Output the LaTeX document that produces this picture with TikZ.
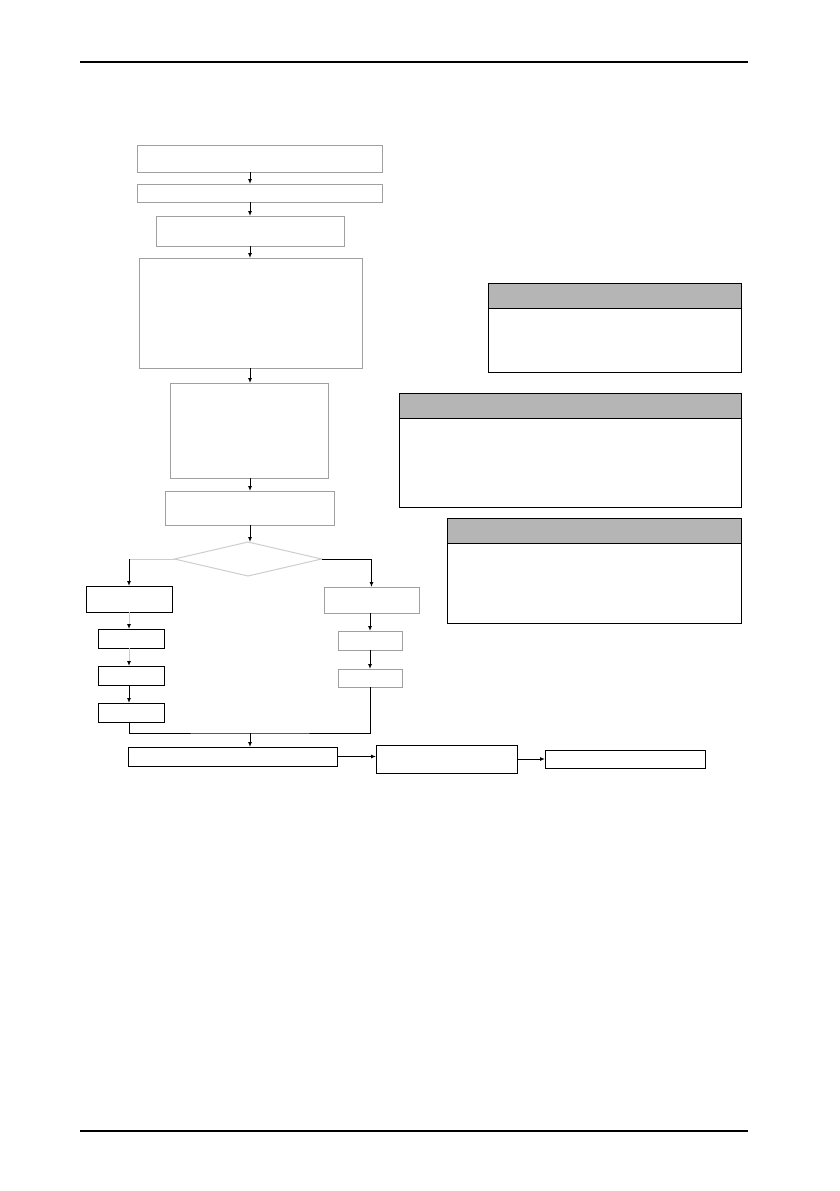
\documentclass[tikz,border=0pt]{standalone}
\usetikzlibrary{shapes,arrows.meta,positioning}
\definecolor{boxgray}{RGB}{160,160,160}
\definecolor{linkgray}{RGB}{205,205,205}
\definecolor{headgray}{RGB}{181,181,181}
\tikzstyle{gbox}=[rectangle,draw=boxgray,line width=1pt,inner sep=0pt,outer sep=0pt]
\tikzstyle{kbox}=[rectangle,draw=black,line width=1pt,inner sep=0pt,outer sep=0pt]
\tikzstyle{head}=[kbox,fill=headgray,anchor=north,minimum height=25]
\tikzstyle{dec}=[diamond,draw=linkgray,line width=1pt,inner sep=0pt,outer sep=0pt,minimum width=147,minimum height=34]
\tikzstyle{arr}=[-{Latex[length=5pt,width=4pt,color=black]},line width=1pt]
\tikzstyle{link}=[draw=linkgray,line width=1pt]
\tikzstyle{rule}=[line width=2pt]

\begin{document}
\begin{tikzpicture}[x=1pt,y=-1pt]
\useasboundingbox (0,0) rectangle (839,1191);
% page rules
\coordinate (tl) at (80,62);
\coordinate (tr) at (748,62);
\coordinate (bl) at (80,1131);
\coordinate (br) at (748,1131);
\draw[rule] (tl) -- (tr);
\draw[rule] (bl) -- (br);
% main column
\coordinate (mid) at (250,0);
\node[gbox,minimum width=245,minimum height=27] (b1) at (259.5,158.5) {};
\node[gbox,minimum width=245,minimum height=18] (b2) at (259.5,193) {};
\node[gbox,minimum width=188,minimum height=30] (b3) at (250,231) {};
\node[gbox,minimum width=223,minimum height=110] (b4) at (250.5,313) {};
\node[gbox,minimum width=158,minimum height=95] (b5) at (249,430.5) {};
\node[gbox,minimum width=169,minimum height=34] (b6) at (249.5,508) {};
\node[dec] (dm) at (248,559) {};
% branches
\node[kbox,minimum width=86,minimum height=26] (l1) at (129,599) {};
\node[kbox,minimum width=66,minimum height=19] (l2) at (131,638.5) {};
\node[kbox,minimum width=66,minimum height=19] (l3) at (131,675.5) {};
\node[kbox,minimum width=66,minimum height=19] (l4) at (131,712.5) {};
\node[gbox,minimum width=95,minimum height=26] (r1) at (371.5,600) {};
\node[gbox,minimum width=64,minimum height=19] (r2) at (370,640.5) {};
\node[gbox,minimum width=64,minimum height=18] (r3) at (370,678) {};
% bottom row
\node[kbox,minimum width=209,minimum height=19] (f1) at (232.5,756.5) {};
\node[kbox,minimum width=141,minimum height=28] (f2) at (446.5,759) {};
\node[kbox,minimum width=160,minimum height=18] (f3) at (625,759) {};
% side panels
\node[kbox,minimum width=253,minimum height=89] (pa) at (614.5,327.5) {};
\node[head,minimum width=253] (pah) at (pa.north) {};
\node[kbox,minimum width=342,minimum height=114] (pb) at (570,450) {};
\node[head,minimum width=342] (pbh) at (pb.north) {};
\node[kbox,minimum width=294,minimum height=105] (pc) at (594,570.5) {};
\node[head,minimum width=294] (pch) at (pc.north) {};
% connectors
\draw[arr] (b1.south-|mid) -- (b2.north-|mid);
\draw[arr] (b2.south-|mid) -- (b3.north-|mid);
\draw[arr] (b3.south-|mid) -- (b4.north-|mid);
\draw[arr] (b4.south-|mid) -- (b5.north-|mid);
\draw[arr] (b5.south-|mid) -- (b6.north-|mid);
\draw[arr] (b6.south-|mid) -- (dm.north-|mid);
\draw[link] (dm.west) -- (dm.west-|l1.north);
\draw[arr] (dm.west-|l1.north) -- (l1.north);
\draw[arr] (dm.east) -| (r1.north);
\draw[arr,draw=linkgray] (l1.south) -- (l1.south|-l2.north);
\draw[arr,draw=linkgray] (l1.south|-l2.south) -- (l1.south|-l3.north);
\draw[arr] (l1.south|-l3.south) -- (l1.south|-l4.north);
\draw[arr] (r1.south-|r2.north) -- (r2.north);
\draw[arr] (r2.south) -- (r3.north);
\coordinate (mg) at (250,733);
\draw[line width=1pt] (l1.south|-l4.south) |- (mg) -| (r3.south);
\draw[arr] (mg) -- (mg|-f1.north);
\draw[arr] (f1.east) -- (f1.east-|f2.west);
\draw[arr] (f2.east) -- (f2.east-|f3.west);
\end{tikzpicture}
\end{document}
